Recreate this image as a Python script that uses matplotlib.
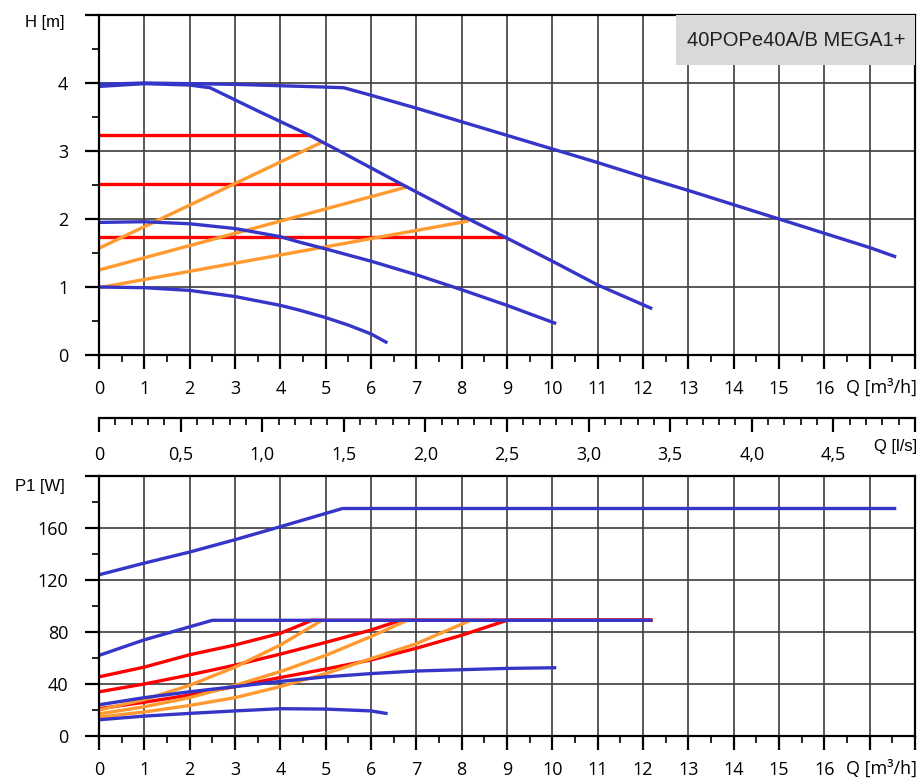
import numpy as np
import matplotlib.pyplot as plt
from matplotlib.patches import Rectangle

# head curves H [m] vs Q [m3/h]
q_max = [0, 1, 2, 3, 4, 5, 5.4, 6, 7, 8, 9, 10, 11, 12, 13, 14, 15, 16, 17, 17.55]
h_max = [3.98, 4.0, 3.99, 3.98, 3.96, 3.94, 3.93, 3.82, 3.63, 3.43, 3.23, 3.03, 2.83, 2.62, 2.42, 2.21, 2.0, 1.79, 1.58, 1.45]
q_c2 = [0, 1, 2, 2.45, 3.5, 4.65, 5.5, 6.68, 8, 8.95, 10, 11, 12.17]
h_c2 = [3.95, 3.99, 3.97, 3.93, 3.59, 3.23, 2.93, 2.51, 2.05, 1.735, 1.38, 1.03, 0.69]
q_c3 = [0, 1, 2, 3, 4, 4.42, 5, 6, 7, 8, 9, 10.05]
h_c3 = [1.95, 1.96, 1.93, 1.86, 1.74, 1.66, 1.56, 1.38, 1.18, 0.96, 0.73, 0.47]
q_c4 = [0, 1, 2, 3, 4, 4.42, 5, 5.5, 6, 6.33]
h_c4 = [1.0, 0.99, 0.95, 0.86, 0.73, 0.66, 0.55, 0.44, 0.31, 0.19]

# constant pressure (red) and proportional pressure (orange)
cp_h = [3.23, 2.51, 1.735]
cp_qend = [4.65, 6.68, 8.95]
pp_h0 = [1.57, 1.25, 0.99]
pp_qend = [4.92, 6.79, 8.15]
pp_hend = [3.13, 2.47, 1.97]

# power curves P1 [W] vs Q [m3/h]
pq_max = [0, 1, 2, 3, 4, 5.37, 17.55]
p_max = [124, 133, 141.5, 151, 161, 175, 175]
pq_c2 = [0, 1, 2, 2.5, 12.17]
p_c2 = [62, 74, 84, 89, 89]
pq_c3 = [0, 1, 2, 3, 4, 5, 6, 7, 8, 9, 10.05]
p_c3 = [24, 29.5, 34, 38, 42, 45.5, 48, 50, 51, 52, 52.5]
pq_c4 = [0, 1, 2, 3, 4, 5, 6, 6.33]
p_c4 = [12.5, 15.3, 17.4, 19.3, 21, 20.7, 19.3, 17.4]

pq_r1 = [0, 1, 2, 3, 4, 4.7, 12.17]
p_r1 = [45.5, 53, 62.5, 70, 79, 89, 89]
pq_r2 = [0, 1, 2, 3, 4, 5, 6, 6.65, 12.17]
p_r2 = [34, 40, 47, 54.5, 63, 72, 81.5, 89, 89]
pq_r3 = [0, 1, 2, 3, 4, 5, 6, 7, 8, 9, 12.17]
p_r3 = [21, 26, 31.5, 38, 45, 51.5, 58.5, 67.5, 77.5, 89, 89]

pq_o1 = [0, 1, 2, 3, 4, 4.92]
p_o1 = [20, 28, 39, 53, 70, 89]
pq_o2 = [0, 1, 2, 3, 4, 5, 6, 6.8]
p_o2 = [17, 22.5, 29.5, 39, 49.5, 62, 76.5, 89]
pq_o3 = [0, 1, 2, 3, 4, 5, 6, 7, 8, 8.2]
p_o3 = [14.5, 18.5, 23.5, 29.5, 38, 48, 59.5, 71, 86, 89]

ls_labels = ['0', '0,5', '1,0', '1,5', '2,0', '2,5', '3,0', '3,5', '4,0', '4,5', '']

BLUE = '#3535c8'
RED = '#ff0000'
ORANGE = '#ff9a30'
LW = 2.4
QMAX = 18

plt.rcParams['font.family'] = ['Open Sans', 'DejaVu Sans']

W, H = 919, 780
fig = plt.figure(figsize=(W / 100, H / 100), dpi=100)


def box(x0, y0, x1, y1):
    return [x0 / W, 1 - y1 / H, (x1 - x0) / W, (y1 - y0) / H]


def style(ax):
    for s in ax.spines.values():
        s.set_linewidth(1.6)
        s.set_color('black')
    ax.tick_params(which='major', direction='out', length=10, width=1.6, labelsize=13, pad=8, color='black')
    ax.tick_params(which='minor', direction='out', length=5, width=1.2, color='black')
    ax.grid(True, which='major', color='#3c3c3c', lw=1.2)
    ax.set_axisbelow(True)


def xticks(ax):
    ax.set_xlim(0, QMAX)
    ax.set_xticks(range(0, QMAX + 1))
    ax.set_xticklabels([str(i) if i <= 16 else '' for i in range(0, QMAX + 1)])
    ax.set_xticks(np.arange(0, QMAX, 0.5), minor=True)


# top: head
ax1 = fig.add_axes(box(99, 15, 915, 355))
style(ax1)
xticks(ax1)
ax1.set_ylim(0, 5)
ax1.set_yticks(range(0, 6))
ax1.set_yticklabels(['0', '1', '2', '3', '4', ''])
ax1.set_yticks(np.arange(0, 5, 0.5), minor=True)
ax1.tick_params(axis='y', which='major', pad=12)

for h, qe in zip(cp_h, cp_qend):
    ax1.plot([0, qe], [h, h], color=RED, lw=LW, solid_capstyle='butt')
for h0, qe, he in zip(pp_h0, pp_qend, pp_hend):
    ax1.plot([0, qe], [h0, he], color=ORANGE, lw=LW, solid_capstyle='butt')
for q, h in [(q_max, h_max), (q_c2, h_c2), (q_c3, h_c3), (q_c4, h_c4)]:
    ax1.plot(q, h, color=BLUE, lw=LW)

ax1.add_patch(Rectangle((0.707, 0.853), 0.293, 0.147, transform=ax1.transAxes,
                        facecolor='#d9d9d9', edgecolor='none', zorder=5))
ax1.text(0.854, 0.926, '40POPe40A/B MEGA1+', transform=ax1.transAxes, ha='center', va='center',
         fontsize=14.5, family='Liberation Sans', color='#222222', zorder=6)

fig.text(45 / W, 1 - 22 / H, 'H [m]', ha='center', va='center', fontsize=12, family='Liberation Sans')
fig.text(917 / W, 1 - 388 / H, 'Q [m³/h]', ha='right', va='center', fontsize=13)

# middle: l/s scale
ax2 = fig.add_axes(box(99, 417, 915, 418))
for k in ['left', 'right', 'top']:
    ax2.spines[k].set_visible(False)
ax2.spines['bottom'].set_linewidth(1.6)
ax2.set_xlim(0, QMAX / 3.6)
ax2.set_yticks([])
ax2.set_xticks(np.arange(0, 5.01, 0.5))
ax2.set_xticklabels(ls_labels)
ax2.set_xticks(np.arange(0, 5.0, 0.1), minor=True)
ax2.tick_params(which='major', direction='out', length=10, width=1.6, labelsize=13, pad=10)
ax2.tick_params(which='minor', direction='out', length=5, width=1.2)
fig.text(917 / W, 1 - 446 / H, 'Q [l/s]', ha='right', va='center', fontsize=12, family='Liberation Sans')

# bottom: power
ax3 = fig.add_axes(box(99, 476, 915, 736))
style(ax3)
xticks(ax3)
ax3.set_ylim(0, 200)
ax3.set_yticks(range(0, 201, 40))
ax3.set_yticklabels(['0', '40', '80', '120', '160', ''])
ax3.set_yticks(range(0, 200, 20), minor=True)
ax3.tick_params(axis='y', which='major', pad=12)

for q, p in [(pq_r1, p_r1), (pq_r2, p_r2), (pq_r3, p_r3)]:
    ax3.plot(q, p, color=RED, lw=LW)
for q, p in [(pq_o1, p_o1), (pq_o2, p_o2), (pq_o3, p_o3)]:
    ax3.plot(q, p, color=ORANGE, lw=LW)
for q, p in [(pq_max, p_max), (pq_c2, p_c2), (pq_c3, p_c3), (pq_c4, p_c4)]:
    ax3.plot(q, p, color=BLUE, lw=LW)

fig.text(40 / W, 1 - 486 / H, 'P1 [W]', ha='center', va='center', fontsize=12, family='Liberation Sans')
fig.text(917 / W, 1 - 769 / H, 'Q [m³/h]', ha='right', va='center', fontsize=13)

fig.savefig('out.png', dpi=100)
